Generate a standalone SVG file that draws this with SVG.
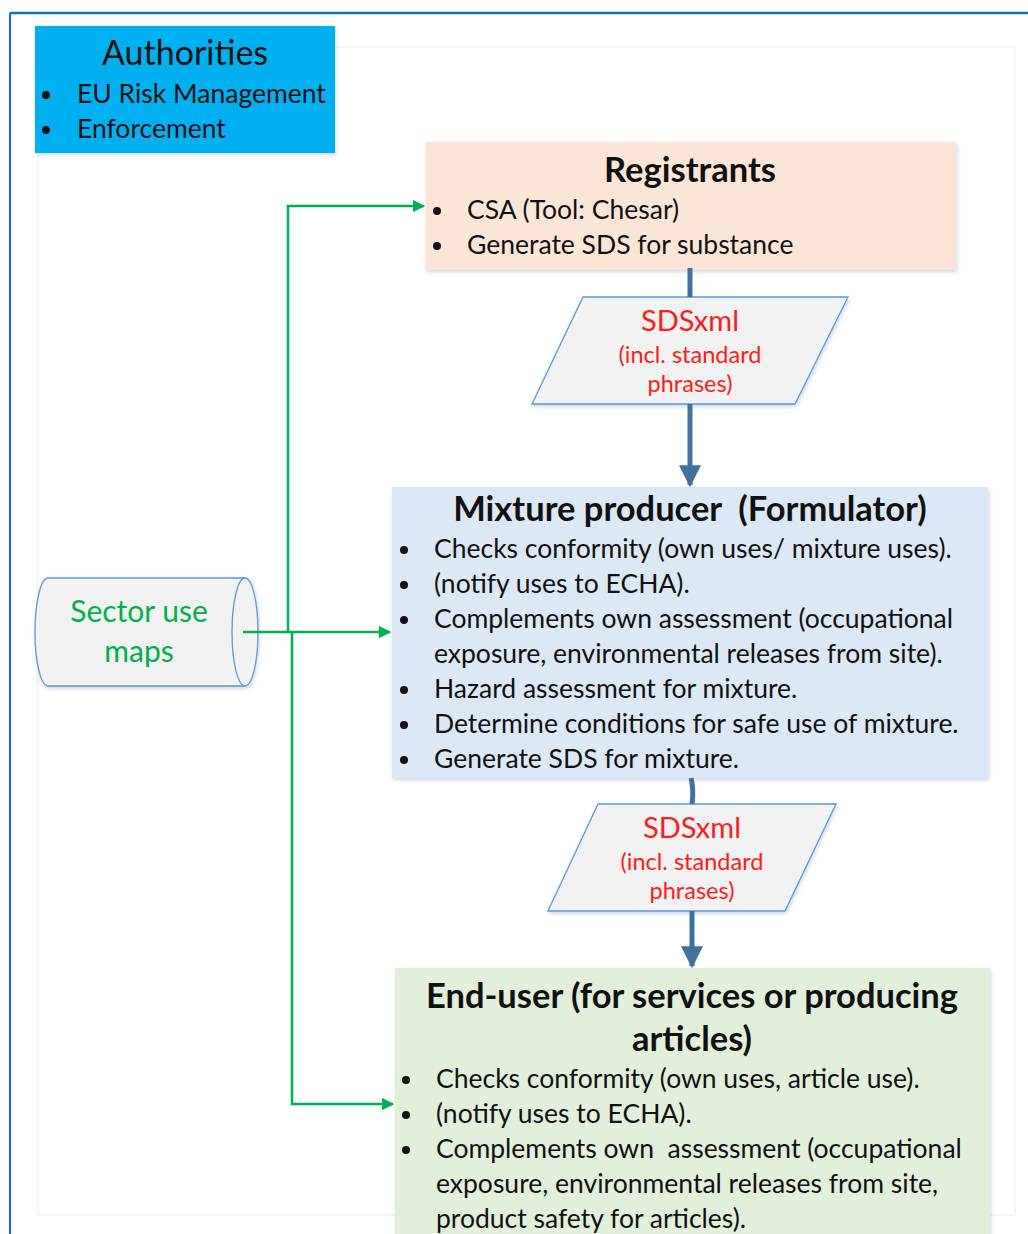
<svg xmlns="http://www.w3.org/2000/svg" width="1028" height="1234" viewBox="0 0 1028 1234">
<defs>
<style>
.t{font-family:Lato,"Liberation Sans",sans-serif;fill:#111;}
.b{font-size:26.5px;}
.h{font-size:34.5px;font-weight:bold;text-anchor:middle;white-space:pre;}
.red{font-family:Lato,"Liberation Sans",sans-serif;fill:#ff1a1a;text-anchor:middle;}
.shape{fill:#f2f2f2;stroke:#5b9bd5;stroke-width:1.3;}
.g{stroke:#00b050;stroke-width:2.5;fill:none;}
.bl{stroke:#41719c;stroke-width:5;fill:none;}
</style>
<filter id="sh" x="-5%" y="-5%" width="110%" height="115%">
<feDropShadow dx="1" dy="2" stdDeviation="2" flood-color="#7090b0" flood-opacity="0.35"/>
</filter>
<marker id="ga" viewBox="0 0 10 10" refX="9" refY="5" markerWidth="5" markerHeight="5" orient="auto" markerUnits="strokeWidth">
<path d="M0,0 L10,5 L0,10 Z" fill="#00b050"/>
</marker>
<marker id="ba" viewBox="0 0 10 10" refX="9" refY="5" markerWidth="4.4" markerHeight="4.4" orient="auto" markerUnits="strokeWidth">
<path d="M0,0 L10,5 L0,10 Z" fill="#41719c"/>
</marker>
</defs>
<rect width="1028" height="1234" fill="#fff"/>
<line x1="10" y1="13" x2="1028" y2="13" stroke="#1070c0" stroke-width="2.5"/>
<line x1="10" y1="13" x2="10" y2="1234" stroke="#1070c0" stroke-width="2"/>
<rect x="38" y="47" width="977" height="1168" fill="none" stroke="#ececec" stroke-width="1"/>

<g id="authorities">
<rect x="35" y="26" width="300" height="127" fill="#00b0f0" filter="url(#sh)"/>
<text class="t" x="185" y="65" font-size="34" text-anchor="middle">Authorities</text>
<circle cx="46" cy="95" r="4" fill="#111"/>
<text class="t b" x="77" y="103">EU Risk Management</text>
<circle cx="46" cy="130" r="4" fill="#111"/>
<text class="t b" x="77" y="138">Enforcement</text>
</g>

<g id="registrants">
<rect x="426" y="142" width="530" height="128" fill="#fbe5d6" filter="url(#sh)"/>
<text class="t h" x="690" y="182">Registrants</text>
<circle cx="437" cy="211" r="4" fill="#111"/>
<text class="t b" x="467" y="219">CSA (Tool: Chesar)</text>
<circle cx="437" cy="246" r="4" fill="#111"/>
<text class="t b" x="467" y="254">Generate SDS for substance</text>
</g>

<g id="sdsxml1">
<polygon class="shape" points="583,297 848,297 795,404 532,404" filter="url(#sh)"/>
<text class="red" x="690" y="331" font-size="29">SDSxml</text>
<text class="red" x="690" y="363" font-size="23.5">(incl. standard</text>
<text class="red" x="690" y="392" font-size="23.5">phrases)</text>
</g>

<g id="mixture">
<rect x="392" y="487" width="596" height="291" fill="#dce8f5" filter="url(#sh)"/>
<text class="t h" x="690" y="521" xml:space="preserve">Mixture producer  (Formulator)</text>
<circle cx="404" cy="550" r="4" fill="#111"/>
<text class="t b" x="434" y="558">Checks conformity (own uses/ mixture uses).</text>
<circle cx="404" cy="585" r="4" fill="#111"/>
<text class="t b" x="434" y="593">(notify uses to ECHA).</text>
<circle cx="404" cy="620" r="4" fill="#111"/>
<text class="t b" x="434" y="628">Complements own assessment (occupational</text>
<text class="t b" x="434" y="663">exposure, environmental releases from site).</text>
<circle cx="404" cy="690" r="4" fill="#111"/>
<text class="t b" x="434" y="698">Hazard assessment for mixture.</text>
<circle cx="404" cy="725" r="4" fill="#111"/>
<text class="t b" x="434" y="733">Determine conditions for safe use of mixture.</text>
<circle cx="404" cy="760" r="4" fill="#111"/>
<text class="t b" x="434" y="768">Generate SDS for mixture.</text>
</g>

<g id="sdsxml2">
<polygon class="shape" points="598,804 836,804 785,911 548,911" filter="url(#sh)"/>
<text class="red" x="692" y="838" font-size="29">SDSxml</text>
<text class="red" x="692" y="870" font-size="23.5">(incl. standard</text>
<text class="red" x="692" y="899" font-size="23.5">phrases)</text>
</g>

<g id="enduser">
<rect x="395" y="968" width="595" height="280" fill="#e2efda" filter="url(#sh)"/>
<text class="t h" x="692" y="1008">End-user (for services or producing</text>
<text class="t h" x="692" y="1051">articles)</text>
<circle cx="406" cy="1080" r="4" fill="#111"/>
<text class="t b" x="436" y="1088">Checks conformity (own uses, article use).</text>
<circle cx="406" cy="1115" r="4" fill="#111"/>
<text class="t b" x="436" y="1123">(notify uses to ECHA).</text>
<circle cx="406" cy="1150" r="4" fill="#111"/>
<text class="t b" x="436" y="1158" xml:space="preserve">Complements own  assessment (occupational</text>
<text class="t b" x="436" y="1193">exposure, environmental releases from site,</text>
<text class="t b" x="436" y="1228">product safety for articles).</text>
</g>

<g id="sectormaps">
<path class="shape" d="M48,578 L245,578 A13,54 0 0 1 245,686 L48,686 A13,54 0 0 1 48,578 Z" filter="url(#sh)"/>
<path d="M245,578 A13,54 0 0 0 245,686" fill="none" stroke="#5b9bd5" stroke-width="1.3"/>
<text x="139" y="622" font-family="Lato,'Liberation Sans',sans-serif" font-size="30" fill="#00b050" text-anchor="middle">Sector use</text>
<text x="139" y="662" font-family="Lato,'Liberation Sans',sans-serif" font-size="30" fill="#00b050" text-anchor="middle">maps</text>
</g>

<g id="connectors">
<line class="bl" x1="690" y1="268" x2="690" y2="297"/>
<line class="bl" x1="690" y1="404" x2="690" y2="485" marker-end="url(#ba)"/>
<path class="bl" d="M691,778 Q694,790 692,804"/>
<line class="bl" x1="692" y1="911" x2="692" y2="966" marker-end="url(#ba)"/>
<line class="g" x1="243" y1="632" x2="390" y2="632" marker-end="url(#ga)"/>
<polyline class="g" points="288,632 288,206 424,206" marker-end="url(#ga)"/>
<polyline class="g" points="292,632 292,1104 393,1104" marker-end="url(#ga)"/>
</g>
</svg>
